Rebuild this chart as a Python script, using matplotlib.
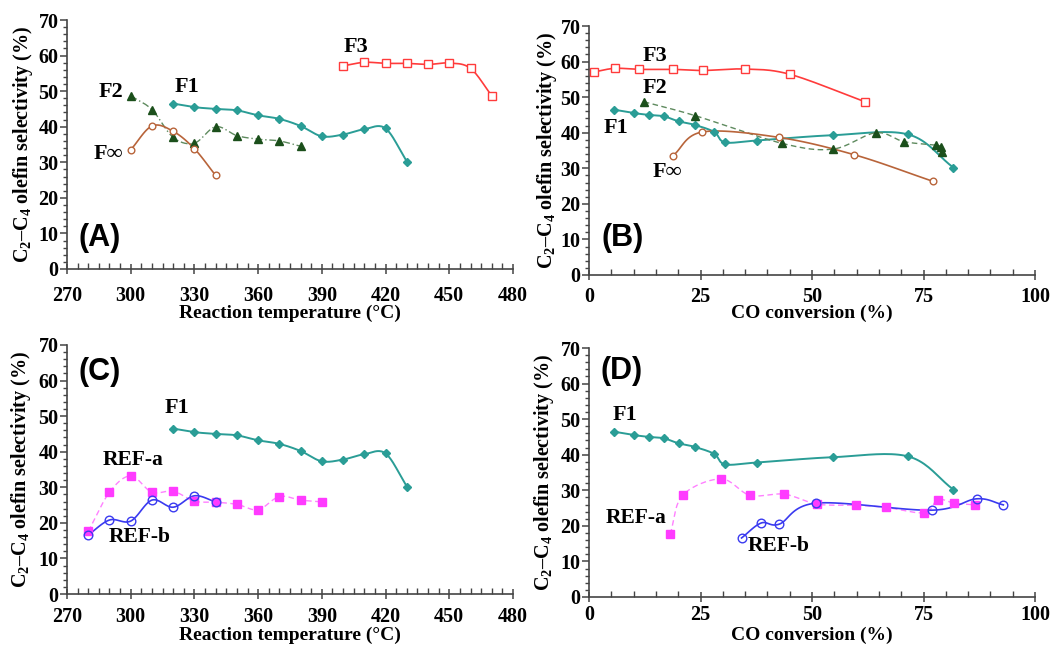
import numpy as np
import matplotlib
matplotlib.use("Agg")
import matplotlib.pyplot as plt
from matplotlib.ticker import MultipleLocator

plt.rcParams['font.family'] = ['Liberation Serif', 'DejaVu Serif']
plt.rcParams['font.weight'] = 'bold'
plt.rcParams['mathtext.fontset'] = 'custom'
plt.rcParams['mathtext.rm'] = 'Liberation Serif:bold'
plt.rcParams['mathtext.default'] = 'rm'

# ---------------- data ----------------
temp_F1 = [320, 330, 340, 350, 360, 370, 380, 390, 400, 410, 420, 430]
conv_F1 = [5.5, 10.2, 13.5, 16.8, 20.1, 23.7, 28.1, 30.5, 37.6, 54.7, 71.6, 81.7]
sel_F1 = [46.5, 45.5, 45.0, 44.6, 43.2, 42.2, 40.2, 37.3, 37.8, 39.3, 39.5, 30.2]

temp_F2 = [300, 310, 320, 330, 340, 350, 360, 370, 380]
conv_F2 = [12.3, 23.8, 43.3, 54.7, 64.3, 70.6, 77.7, 79.0, 79.1]
sel_F2 = [48.7, 44.8, 37.0, 35.4, 40.0, 37.5, 36.5, 36.0, 34.5]

temp_Finf = [300, 310, 320, 330, 340]
conv_Finf = [18.8, 25.4, 42.5, 59.5, 77.2]
sel_Finf = [33.5, 40.2, 38.7, 33.8, 26.3]

temp_F3 = [400, 410, 420, 430, 440, 450, 460, 470]
conv_F3 = [1.2, 5.8, 11.2, 18.9, 25.6, 35.0, 45.1, 61.9]
sel_F3 = [57.1, 58.1, 57.8, 57.8, 57.5, 57.9, 56.4, 48.7]

temp_REFa = [280, 290, 300, 310, 320, 330, 340, 350, 360, 370, 380, 390]
conv_REFa = [18.2, 21.0, 29.6, 36.1, 43.8, 51.2, 59.8, 66.5, 75.2, 78.2, 81.8, 86.6]
sel_REFa = [17.6, 28.6, 33.2, 28.6, 28.9, 26.1, 25.8, 25.2, 23.7, 27.4, 26.4, 25.9]

temp_REFb = [280, 290, 300, 310, 320, 330, 340]
conv_REFb = [34.2, 38.6, 42.7, 51.0, 76.8, 86.9, 92.9]
sel_REFb = [16.6, 20.8, 20.5, 26.4, 24.4, 27.6, 25.9]

# ---------------- styles ----------------
C_F1 = '#2A9D96'
C_F2_M = '#1B4F1B'
C_F2_L = '#5E8A5E'
C_FINF = '#B8643A'
C_F3 = '#FF3B3B'
C_REFA = '#FF3BFF'
C_REFB = '#3A3AF0'


def smooth(x, y, n=20):
    """Catmull-Rom spline through points (Excel-like smoothed line)."""
    p = np.column_stack([x, y]).astype(float)
    if len(p) < 3:
        return p[:, 0], p[:, 1]
    ext = np.vstack([p[0] - (p[1] - p[0]), p, p[-1] + (p[-1] - p[-2])])
    out = []
    t = np.linspace(0, 1, n, endpoint=False)[:, None]
    for i in range(1, len(ext) - 2):
        p0, p1, p2, p3 = ext[i - 1], ext[i], ext[i + 1], ext[i + 2]
        seg = 0.5 * ((2 * p1) + (-p0 + p2) * t + (2 * p0 - 5 * p1 + 4 * p2 - p3) * t ** 2
                     + (-p0 + 3 * p1 - 3 * p2 + p3) * t ** 3)
        out.append(seg)
    out.append(p[-1][None, :])
    out = np.vstack(out)
    return out[:, 0], out[:, 1]


def series(ax, x, y, lc, ls, lw, marker, ms, mfc, mec, mew=1.0):
    sx, sy = smooth(x, y)
    ax.plot(sx, sy, color=lc, ls=ls, lw=lw, zorder=2)
    ax.plot(x, y, ls='none', marker=marker, ms=ms, mfc=mfc, mec=mec, mew=mew, zorder=3)


def F1(ax, x):
    series(ax, x, sel_F1, C_F1, '-', 1.4, 'D', 4.5, C_F1, C_F1)


def F2(ax, x, ls):
    series(ax, x, sel_F2, C_F2_L, ls, 1.0, '^', 6, C_F2_M, C_F2_M)


def Finf(ax, x):
    series(ax, x, sel_Finf, C_FINF, '-', 1.2, 'o', 4.8, 'white', C_FINF)


def F3(ax, x):
    series(ax, x, sel_F3, C_F3, '-', 1.2, 's', 5.5, 'white', C_F3)


def REFa(ax, x):
    series(ax, x, sel_REFa, '#FF80FF', (0, (4, 2.5)), 1.0, 's', 5.5, C_REFA, C_REFA)


def REFb(ax, x):
    series(ax, x, sel_REFb, C_REFB, '-', 1.2, 'o', 6.2, 'none', C_REFB)


fig = plt.figure(figsize=(10.64, 6.45), dpi=100)
W, H = 446 / 1064, 249 / 645
axA = fig.add_axes([67 / 1064, 1 - 269 / 645, W, H])
axB = fig.add_axes([589 / 1064, 1 - 275 / 645, W, H])
axC = fig.add_axes([67 / 1064, 1 - 594 / 645, W, H])
axD = fig.add_axes([589 / 1064, 1 - 597 / 645, W, H])

ylab = 'C$_2$–C$_4$ olefin selectivity (%)'
# (axes, kind, x tick pad, xlabel y in axes coords, ylabel x in axes coords)
layout = [(axA, 't', 9, -0.177, -0.099), (axB, 'c', 5, -0.155, -0.094),
          (axC, 't', 5.5, -0.166, -0.103), (axD, 'c', 2.5, -0.155, -0.101)]
for ax, kind, xpad, xly, ylx in layout:
    for s in ['top', 'right']:
        ax.spines[s].set_visible(False)
    for s in ['left', 'bottom']:
        ax.spines[s].set_color('#444444')
        ax.spines[s].set_linewidth(1.2)
    ax.set_ylim(0, 70)
    ax.yaxis.set_major_locator(MultipleLocator(10))
    ax.yaxis.set_minor_locator(MultipleLocator(2))
    if kind == 't':
        ax.set_xlim(270, 480)
        ax.xaxis.set_major_locator(MultipleLocator(30))
        ax.xaxis.set_minor_locator(MultipleLocator(5))
        ax.set_xlabel('Reaction temperature (°C)', fontsize=14, fontweight='bold')
    else:
        ax.set_xlim(0, 100)
        ax.xaxis.set_major_locator(MultipleLocator(25))
        ax.xaxis.set_minor_locator(MultipleLocator(5))
        ax.set_xlabel('CO conversion (%)', fontsize=14, fontweight='bold')
    ax.set_ylabel(ylab, fontsize=14.5, fontweight='bold')
    ax.xaxis.set_label_coords(0.5, xly)
    ax.xaxis.label.set_va('center')
    ax.yaxis.set_label_coords(ylx, 0.5)
    ax.yaxis.label.set_va('center')
    ax.tick_params(axis='both', which='major', labelsize=14.5, color='#444444', width=1.1)
    ax.tick_params(axis='x', which='major', direction='inout', length=7, pad=xpad)
    ax.tick_params(axis='x', which='minor', direction='in', length=4, color='#444444', width=1.0)
    ax.tick_params(axis='y', which='major', direction='out', length=5, pad=1)
    ax.tick_params(axis='y', which='minor', direction='out', length=3, color='#444444', width=1.0)
    for lab in ax.get_xticklabels() + ax.get_yticklabels():
        lab.set_fontweight('bold')

lab_kw = dict(fontsize=16, fontweight='bold', ha='center', va='center')
ref_kw = dict(fontsize=15.5, fontweight='bold', ha='center', va='center')
letter_kw = dict(fontsize=22, fontweight='bold', ha='center', va='center',
                 family=['Liberation Sans', 'DejaVu Sans'])

# Panel A
F1(axA, temp_F1)
F2(axA, temp_F2, (0, (5, 2, 1, 2)))
Finf(axA, temp_Finf)
F3(axA, temp_F3)
axA.text(406, 62.4, 'F3', **lab_kw)
axA.text(326.5, 51.2, 'F1', **lab_kw)
axA.text(290.5, 49.8, 'F2', **lab_kw)
axA.text(289.5, 32.3, 'F∞', **lab_kw)
axA.text(0.074, 0.125, '(A)', transform=axA.transAxes, **letter_kw)

# Panel B
F1(axB, conv_F1)
F2(axB, conv_F2, (0, (4, 2.5)))
Finf(axB, conv_Finf)
F3(axB, conv_F3)
axB.text(14.8, 61.6, 'F3', **lab_kw)
axB.text(14.8, 52.6, 'F2', **lab_kw)
axB.text(6.1, 41.3, 'F1', **lab_kw)
axB.text(17.5, 29.0, 'F∞', **lab_kw)
axB.text(0.076, 0.149, '(B)', transform=axB.transAxes, **letter_kw)

# Panel C
F1(axC, temp_F1)
REFa(axC, temp_REFa)
REFb(axC, temp_REFb)
axC.text(321.8, 52.3, 'F1', **lab_kw)
axC.text(301, 37.7, 'REF-a', **ref_kw)
axC.text(304.4, 16.0, 'REF-b', **ref_kw)
axC.text(0.074, 0.89, '(C)', transform=axC.transAxes, **letter_kw)

# Panel D
F1(axD, conv_F1)
REFa(axD, conv_REFa)
REFb(axD, conv_REFb)
axD.text(8.1, 51.2, 'F1', **lab_kw)
axD.text(10.5, 22.1, 'REF-a', **ref_kw)
axD.text(42.6, 14.3, 'REF-b', **ref_kw)
axD.text(0.074, 0.908, '(D)', transform=axD.transAxes, **letter_kw)

fig.savefig('out.png', dpi=100)
